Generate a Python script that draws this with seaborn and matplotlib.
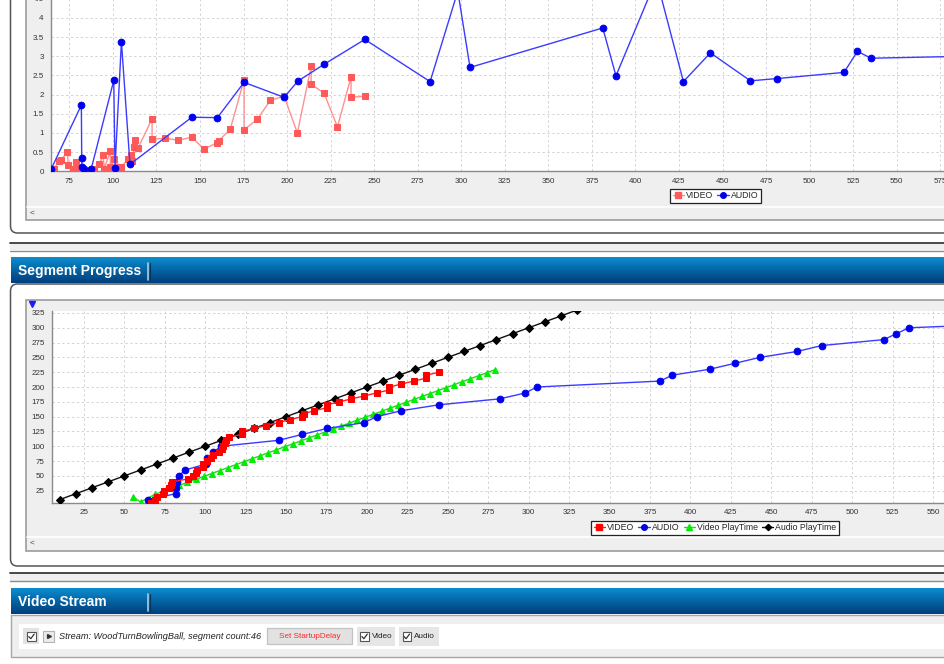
import matplotlib
matplotlib.use("Agg")
import numpy as np
import matplotlib.pyplot as plt
import seaborn as sns
from matplotlib.colors import LinearSegmentedColormap
from matplotlib.lines import Line2D
from matplotlib.patches import Rectangle, FancyBboxPatch
from matplotlib.ticker import MultipleLocator, FuncFormatter

# ---- segment download log (wall-clock seconds) ----
video_time = [66.2, 68.9, 70.2, 73.9, 74.4, 77.3, 79.0, 79.6, 89.4, 92.2,
              94.3, 95.1, 98.5, 98.5, 100.8, 103.5, 104.9, 108.5, 110.4, 111.0,
              112.3, 112.9, 114.4, 122.5, 122.5, 130.1, 137.6, 145.3, 152.3, 160.0,
              160.9, 167.4, 175.3, 175.3, 182.9, 190.4, 198.3, 205.9, 213.8, 213.8,
              221.2, 228.9, 236.7, 236.7, 244.6]
video_duration = [0.05, 0.28, 0.29, 0.50, 0.16, 0.05, 0.23, 0.09, 0.06, 0.18,
                  0.43, 0.07, 0.53, 0.12, 0.31, 0.12, 0.12, 0.31, 0.43, 0.26,
                  0.63, 0.82, 0.60, 1.37, 0.84, 0.86, 0.81, 0.89, 0.58, 0.75,
                  0.80, 1.10, 2.39, 1.08, 1.36, 1.85, 1.96, 1.00, 2.74, 2.27,
                  2.04, 1.16, 2.46, 1.93, 1.96]
video_progress = [5, 10, 15, 20, 25, 30, 35, 40, 45, 50,
                  55, 60, 65, 70, 75, 80, 85, 90, 95, 100,
                  105, 110, 115, 120, 125, 130, 135, 140, 145, 150,
                  155, 160, 165, 170, 175, 180, 185, 190, 195, 200,
                  205, 210, 215, 220, 225]

audio_time = [64.5, 81.9, 82.1, 82.3, 83.6, 87.6, 100.5, 101.2, 104.9, 109.8,
              145.3, 160.0, 175.3, 198.3, 206.1, 221.2, 244.6, 282.1, 298.0, 305.0,
              381.2, 388.8, 412.0, 427.5, 443.0, 466.0, 481.3, 519.7, 527.4, 535.2,
              630.0]
audio_duration = [0.05, 1.73, 0.34, 0.10, 0.06, 0.07, 2.37, 0.09, 3.38, 0.18,
                  1.41, 1.40, 2.32, 1.93, 2.35, 2.79, 3.44, 2.34, 4.70, 2.71,
                  3.74, 2.49, 5.02, 2.34, 3.09, 2.36, 2.42, 2.58, 3.13, 2.95,
                  3.04]
audio_progress = [10, 20, 30, 40, 50, 60, 70, 80, 90, 100,
                  110, 120, 130, 140, 150, 160, 170, 180, 190, 200,
                  210, 220, 230, 240, 250, 260, 270, 280, 290, 300,
                  310]

# ---- playback position ----
video_play_time = [55, 60, 69, 74, 79, 84, 89, 94, 99, 104, 109, 114, 119, 124,
                   129, 134, 139, 144, 149, 154, 159, 164, 169, 174, 179, 184,
                   189, 194, 199, 204, 209, 214, 219, 224, 229, 234, 239, 244,
                   249, 254, 259, 264, 269, 274, 279]
video_play_pos = [15, 6, 19, 24, 29, 34, 39, 44, 49, 54, 59, 64, 69, 74,
                  79, 84, 89, 94, 99, 104, 109, 114, 119, 124, 129, 134,
                  139, 144, 149, 154, 159, 164, 169, 174, 179, 184, 189, 194,
                  199, 204, 209, 214, 219, 224, 229]
audio_play_time = [10, 20, 30, 40, 50, 60, 70, 80, 90, 100, 110, 120, 130, 140,
                   150, 160, 170, 180, 190, 200, 210, 220, 230, 240, 250, 260,
                   270, 280, 290, 300, 310, 320, 330]
audio_play_pos = [10, 20, 30, 40, 50, 60, 70, 80, 90, 100, 110, 120, 130, 140,
                  150, 160, 170, 180, 190, 200, 210, 220, 230, 240, 250, 260,
                  270, 280, 290, 300, 310, 320, 330]

legend_top = ["VIDEO", "AUDIO"]
legend_bottom = ["VIDEO", "AUDIO", "Video PlayTime", "Audio PlayTime"]

sns.set_style("white")
plt.rcParams["font.family"] = ["Liberation Sans", "DejaVu Sans"]

W, H = 945, 664
fig = plt.figure(figsize=(W / 100, H / 100), dpi=100)
fig.patch.set_facecolor("white")


def px_axes(left, top, right, bottom, **kw):
    return fig.add_axes([left / W, 1 - bottom / H, (right - left) / W, (bottom - top) / H], **kw)


# ---------- page chrome (pixel coordinates) ----------
bg = px_axes(0, 0, W, H, zorder=-10)
bg.set_xlim(0, W)
bg.set_ylim(H, 0)
bg.axis("off")

header_cmap = LinearSegmentedColormap.from_list(
    "hdr", ["#0c8dcf", "#0772b3", "#035795", "#003f7e"])


def header(top, bottom, title):
    grad = np.linspace(0, 1, 64).reshape(-1, 1)
    bg.imshow(grad, extent=[10.5, W + 2, bottom, top], aspect="auto",
              cmap=header_cmap, origin="upper", zorder=2)
    bg.text(18, (top + bottom) / 2 + 0.5, title, color="white", fontsize=10,
            fontweight="bold", va="center", ha="left", zorder=3)
    bg.plot([148.3, 148.3], [top + 5, bottom - 4], color="#a9cde6", lw=1.2, zorder=3)
    bg.plot([149.6, 149.6], [top + 5, bottom - 4], color="#02375f", lw=0.8, zorder=3)


def divider(y):
    bg.add_patch(Rectangle((10, y), W, 7.5, facecolor="#efefef", edgecolor="none", zorder=1))
    bg.plot([10, W + 2], [y, y], color="#3a3a3a", lw=1.3, zorder=2)
    bg.plot([10, W + 2], [y + 8, y + 8], color="#8c8c8c", lw=1.0, zorder=2)


def chart_frame(top, bottom, scroll_y):
    bg.add_patch(Rectangle((25.5, top), 960, bottom - top, facecolor="#efefef",
                           edgecolor="#9c9c9c", lw=1.2, zorder=2))
    bg.plot([26.5, W + 2], [scroll_y, scroll_y], color="white", lw=1.2, zorder=3)
    bg.text(32, scroll_y + 6, "<", fontsize=6, color="#444", ha="center",
            va="center", zorder=3)


# top panel
bg.add_patch(FancyBboxPatch((10.5, -60), 1100, 293, boxstyle="round,pad=0,rounding_size=7",
                            facecolor="white", edgecolor="#555555", lw=1.1, zorder=1))
chart_frame(-5, 219.5, 206.7)

divider(242.5)
header(257.5, 283.5, "Segment Progress")

# segment progress panel
bg.add_patch(FancyBboxPatch((10.5, 284), 1100, 282, boxstyle="round,pad=0,rounding_size=7",
                            facecolor="white", edgecolor="#555555", lw=1.1, zorder=1))
chart_frame(299.5, 550.5, 536.7)
bg.plot([32.3], [304], marker="v", color="#1a1aff", markersize=5, zorder=4)

divider(573.3)
header(589, 614.5, "Video Stream")

# video stream panel
bg.add_patch(Rectangle((10.8, 614.5), 1000, 42, facecolor="#efefef",
                       edgecolor="#a6a6a6", lw=1.0, zorder=1))
bg.add_patch(Rectangle((19, 623.5), 1000, 25, facecolor="white",
                       edgecolor="none", zorder=2))


def checkbox(x, y, size=8.3):
    bg.add_patch(Rectangle((x, y), size, size, facecolor="white",
                           edgecolor="#555555", lw=0.8, zorder=4))
    bg.plot([x + 1.6, x + 3.6, x + 7.0], [y + 4.3, y + 6.4, y + 1.8],
            color="#333333", lw=0.9, zorder=5)


bg.add_patch(Rectangle((23.3, 628.3), 15.7, 16, facecolor="#e3e3e3", edgecolor="none", zorder=3))
checkbox(27.2, 632.3)
bg.add_patch(Rectangle((42.7, 630.5), 11.6, 11, facecolor="#ececec",
                       edgecolor="#b4b4b4", lw=0.8, zorder=3))
bg.plot([48.8], [636], marker=">", color="#333333", markersize=2.8, zorder=4)
bg.text(58.7, 636.8, "Stream: WoodTurnBowlingBall, segment count:46", fontsize=6.6,
        style="italic", color="#222222", va="center", ha="left", zorder=4)
bg.add_patch(Rectangle((267, 628.3), 85.3, 15.7, facecolor="#e2e2e2",
                       edgecolor="#c2c2c2", lw=0.9, zorder=3))
bg.text(309.7, 636.5, "Set StartupDelay", fontsize=5.9, color="#ff2a2a",
        ha="center", va="center", zorder=4)
bg.add_patch(Rectangle((357, 627.3), 38, 18.5, facecolor="#e6e6e6", edgecolor="none", zorder=3))
checkbox(360.3, 632.3)
bg.text(371.8, 636.5, "Video", fontsize=5.9, color="#222222", ha="left", va="center", zorder=4)
bg.add_patch(Rectangle((399, 627.3), 39.7, 18.5, facecolor="#e6e6e6", edgecolor="none", zorder=3))
checkbox(402.5, 632.3)
bg.text(414, 636.5, "Audio", fontsize=5.9, color="#222222", ha="left", va="center", zorder=4)


# ---------- chart styling ----------
def style_axes(ax, xmaj, xmin, ymaj, ymin, yfmt):
    ax.set_facecolor("white")
    for side in ("top", "right"):
        ax.spines[side].set_visible(False)
    for side in ("left", "bottom"):
        ax.spines[side].set_color("#8a8a8a")
        ax.spines[side].set_linewidth(1.0)
    ax.xaxis.set_major_locator(MultipleLocator(xmaj))
    ax.xaxis.set_minor_locator(MultipleLocator(xmin))
    ax.yaxis.set_major_locator(MultipleLocator(ymaj))
    ax.yaxis.set_minor_locator(MultipleLocator(ymin))
    ax.yaxis.set_major_formatter(FuncFormatter(yfmt))
    ax.xaxis.set_major_formatter(FuncFormatter(lambda v, p: f"{v:g}"))
    ax.tick_params(which="major", direction="inout", length=6, width=0.8,
                   color="#7a7a7a", labelsize=5.8, labelcolor="#333333", pad=2)
    ax.tick_params(which="minor", direction="inout", length=3.5, width=0.7,
                   color="#8a8a8a")
    ax.grid(True, which="major", color="#d4d4d4", linestyle=(0, (2.5, 2.5)), lw=0.7)
    ax.set_axisbelow(True)
    ax.set_xlabel("")
    ax.set_ylabel("")


# ---------- download duration chart ----------
ax1 = px_axes(50.7, 171.3 - 5.5 * 38.33, 50.7 + (640 - 64.3) * 1.742, 171.3)
sns.lineplot(x=video_time, y=video_duration, ax=ax1, sort=False, estimator=None,
             color="#ff9090", lw=1.0, marker="s", markersize=4.6,
             markerfacecolor="#ff5a5a", markeredgecolor="#ff5a5a", legend=False, zorder=3)
sns.lineplot(x=audio_time, y=audio_duration, ax=ax1, sort=False, estimator=None,
             color="#3b3bff", lw=1.0, marker="o", markersize=4.8,
             markerfacecolor="#0000ee", markeredgecolor="#0000ee", legend=False, zorder=4)
ax1.set_xlim(64.3, 640)
ax1.set_ylim(0, 5.5)
style_axes(ax1, 25, 5, 0.5, 0.1, lambda v, p: f"{v:g}")

top_handles = [
    Line2D([], [], color="#ff9090", lw=1.0, marker="s", markersize=4,
           markerfacecolor="#ff5a5a", markeredgecolor="#ff5a5a"),
    Line2D([], [], color="#3b3bff", lw=1.0, marker="o", markersize=4,
           markerfacecolor="#0000ee", markeredgecolor="#0000ee"),
]
leg1 = fig.legend(top_handles, legend_top, loc="center",
                  bbox_to_anchor=(715.5 / W, 1 - 196 / H), ncol=2, frameon=True,
                  fancybox=False, edgecolor="#222222", framealpha=1, fontsize=6.3,
                  handlelength=1.3, handletextpad=0.2, columnspacing=0.5,
                  borderpad=0.3, borderaxespad=0)
leg1.get_frame().set_linewidth(0.9)

# ---------- segment progress chart ----------
ax2 = px_axes(84 + (5 - 25) * 1.617, 490.7 - (328 - 25) * 0.5925,
              84 + (600 - 25) * 1.617, 490.7 + (25 - 5) * 0.5925)
sns.lineplot(x=audio_play_time, y=audio_play_pos, ax=ax2, sort=False, estimator=None,
             color="#111111", lw=1.0, marker="D", markersize=3.6,
             markerfacecolor="black", markeredgecolor="black", legend=False, zorder=3)
sns.lineplot(x=video_play_time, y=video_play_pos, ax=ax2, sort=False, estimator=None,
             color="#2bd12b", lw=1.0, marker="^", markersize=4.6,
             markerfacecolor="#00ee00", markeredgecolor="#00ee00", legend=False, zorder=4)
sns.lineplot(x=audio_time, y=audio_progress, ax=ax2, sort=False, estimator=None,
             color="#3b3bff", lw=1.0, marker="o", markersize=4.8,
             markerfacecolor="#0000ee", markeredgecolor="#0000ee", legend=False, zorder=5)
sns.lineplot(x=video_time, y=video_progress, ax=ax2, sort=False, estimator=None,
             color="#ff2020", lw=1.0, marker="s", markersize=5,
             markerfacecolor="#ff0000", markeredgecolor="#ff0000", legend=False, zorder=6)
ax2.set_xlim(5, 600)
ax2.set_ylim(5, 328)
style_axes(ax2, 25, 5, 25, 5, lambda v, p: f"{v:g}")

bottom_handles = [
    Line2D([], [], color="#ff2020", lw=1.0, marker="s", markersize=4,
           markerfacecolor="#ff0000", markeredgecolor="#ff0000"),
    Line2D([], [], color="#3b3bff", lw=1.0, marker="o", markersize=4,
           markerfacecolor="#0000ee", markeredgecolor="#0000ee"),
    Line2D([], [], color="#2bd12b", lw=1.0, marker="^", markersize=4,
           markerfacecolor="#00ee00", markeredgecolor="#00ee00"),
    Line2D([], [], color="#111111", lw=1.0, marker="D", markersize=3.2,
           markerfacecolor="black", markeredgecolor="black"),
]
leg2 = fig.legend(bottom_handles, legend_bottom, loc="center",
                  bbox_to_anchor=(715 / W, 1 - 527.7 / H), ncol=4, frameon=True,
                  fancybox=False, edgecolor="#222222", framealpha=1, fontsize=6.3,
                  handlelength=1.3, handletextpad=0.2, columnspacing=0.5,
                  borderpad=0.3, borderaxespad=0)
leg2.get_frame().set_linewidth(0.9)

fig.savefig("out.png", dpi=100)
